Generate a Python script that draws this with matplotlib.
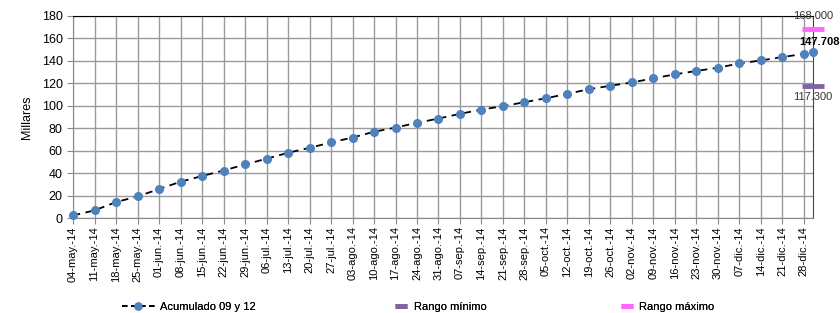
import matplotlib
matplotlib.use("Agg")
import matplotlib.pyplot as plt
from matplotlib.lines import Line2D
import pandas as pd

plt.rcParams['font.family'] = ['Liberation Sans', 'DejaVu Sans']

# weekly dates plus the last day of the year
fechas = list(pd.date_range("2014-05-04", "2014-12-28", freq="7D")) + [pd.Timestamp("2014-12-31")]
acumulado = [2.3, 6.8, 14.2, 19.2, 25.8, 32.3, 37.4, 42.3, 47.7, 52.8, 58.1,
             62.5, 67.3, 71.7, 76.8, 80.6, 84.8, 88.6, 92.8, 96.6, 99.6, 103.2,
             106.7, 110.6, 114.8, 117.8, 120.8, 124.4, 128.0, 131.0, 133.9,
             137.7, 140.4, 143.4, 146.2, 147.708]
rango_min = 117.3
rango_max = 168.0

meses = {5: "may", 6: "jun", 7: "jul", 8: "ago", 9: "sep", 10: "oct", 11: "nov", 12: "dic"}
ticks = fechas[:-1]
tick_labels = [f"{d.day:02d}-{meses[d.month]}.-14" for d in ticks]

fig = plt.figure(figsize=(8.4, 3.13), dpi=100)
ax = fig.add_axes([0.087, 0.3035, 0.881, 0.6455])

ax.plot(fechas, acumulado, color="black", lw=1.3, ls=(0, (4, 3)), zorder=3)
ax.plot(fechas, acumulado, ls="none", marker="o", ms=5.5, color="#4F81BD", zorder=4, clip_on=False)
ax.plot([fechas[-1]], [rango_min], marker="_", ms=16, mew=3.5, color="#8064A2", zorder=5, clip_on=False)
ax.plot([fechas[-1]], [rango_max], marker="_", ms=16, mew=3.5, color="#FF66FF", zorder=5, clip_on=False)

ax.annotate("168.000", (fechas[-1], rango_max), xytext=(0, 6), textcoords="offset points",
            ha="center", va="bottom", fontsize=8, color="#333333", annotation_clip=False)
ax.annotate("117.300", (fechas[-1], rango_min), xytext=(0, -4), textcoords="offset points",
            ha="center", va="top", fontsize=8, color="#333333", annotation_clip=False)
ax.annotate("147.708", (fechas[-1], acumulado[-1]), xytext=(-10, 4), textcoords="offset points",
            ha="left", va="bottom", fontsize=8, fontweight="bold", annotation_clip=False)

ax.set_xlim(fechas[0], fechas[-1])
ax.set_ylim(0, 180)
ax.set_yticks(range(0, 181, 20))
ax.set_xticks(ticks)
ax.set_xticklabels(tick_labels, rotation=90, fontsize=8)
ax.tick_params(axis="y", labelsize=9, length=4, color="#888888")
ax.tick_params(axis="x", length=4, color="#888888", pad=2)
ax.set_ylabel("Millares", fontsize=9, labelpad=6)

ax.grid(True, color="#9a9a9a", lw=1)
ax.set_axisbelow(True)
ax.spines["top"].set_color("black")
ax.spines["right"].set_color("#444444")
ax.spines["left"].set_color("#888888")
ax.spines["bottom"].set_color("#888888")

h1 = Line2D([], [], color="black", ls=(0, (3, 2)), lw=1.3, marker="o", ms=5, mfc="#4F81BD", mec="#4F81BD")
h2 = Line2D([], [], color="#8064A2", marker="_", ms=8, mew=3.5, ls="none")
h3 = Line2D([], [], color="#FF66FF", marker="_", ms=8, mew=3.5, ls="none")
for h, lab, x in [(h1, "Acumulado 09 y 12", 0.145), (h2, "Rango mínimo", 0.468), (h3, "Rango máximo", 0.736)]:
    lg = fig.legend([h], [lab], loc="center left", bbox_to_anchor=(x, 0.018), frameon=False,
                    fontsize=8, handlelength=3 if h is h1 else 1.5, handletextpad=0.4,
                    borderaxespad=0, borderpad=0)
    fig.add_artist(lg)

fig.savefig("out.png", dpi=100)
